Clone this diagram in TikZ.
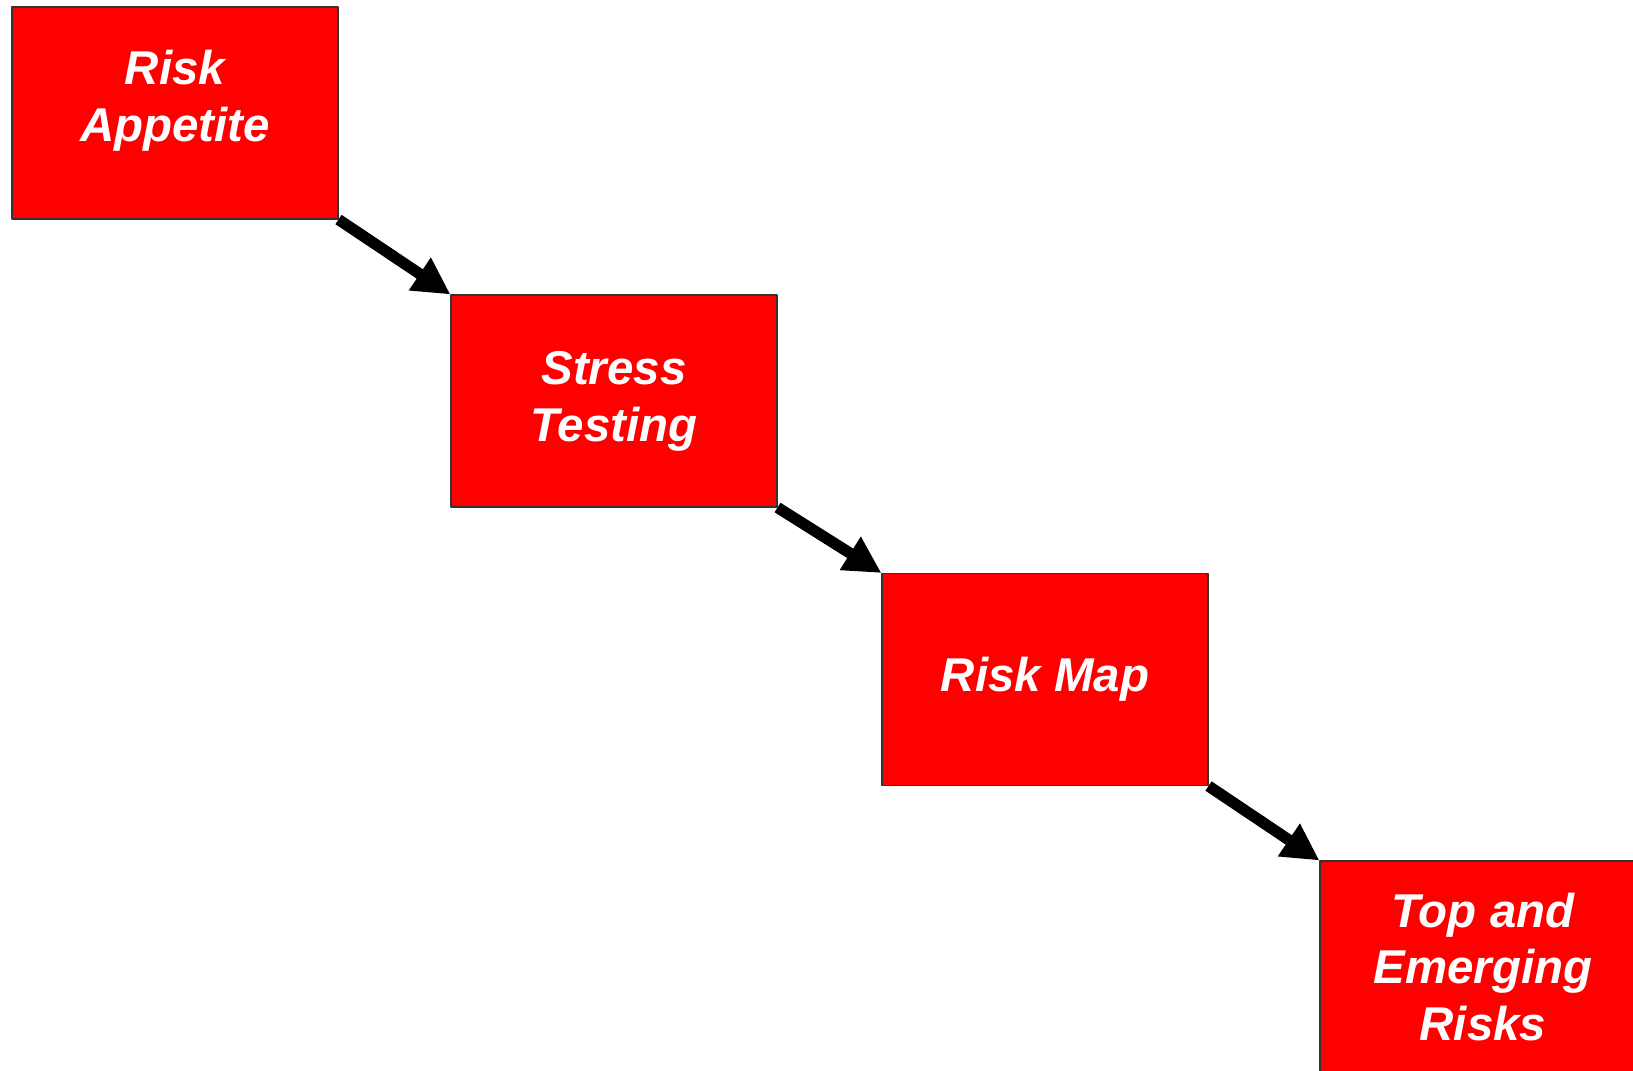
\documentclass[tikz,border=0pt]{standalone}
\usepackage{fontspec}
\setmainfont{Liberation Sans}
\usetikzlibrary{arrows.meta}
\begin{document}
\begin{tikzpicture}[line join=round,
	box/.style={draw=black!80, line width=.3pt, fill=red, text=white, align=center,
		minimum width=3.26cm, minimum height=2.12cm, inner sep=0pt,
		font=\fontsize{13.5pt}{16.2pt}\selectfont\bfseries\itshape},
	arr/.style={line width=3.2pt, -{Triangle[length=10.5pt, width=10.5pt]}}]
	\useasboundingbox(0,0)rectangle(16.33,-10.70);
	\fill[white](0,0)rectangle(16.33,-10.70);
	\clip(0,0)rectangle(16.33,-10.70);
	\node[box, text depth=.35cm](appetite)at(1.75,-1.13){Risk\\Appetite};
	\node[box](stress)at(6.14,-4.01){Stress\\Testing};
	\node[box](map)at(10.45,-6.795){Risk Map};
	\node[box](emerging)at(14.83,-9.67){Top and\\Emerging\\Risks};
	\foreach \a/\b in {appetite/stress,stress/map,map/emerging}\draw[arr](\a.south east)--(\b.north west);
\end{tikzpicture}
\end{document}
